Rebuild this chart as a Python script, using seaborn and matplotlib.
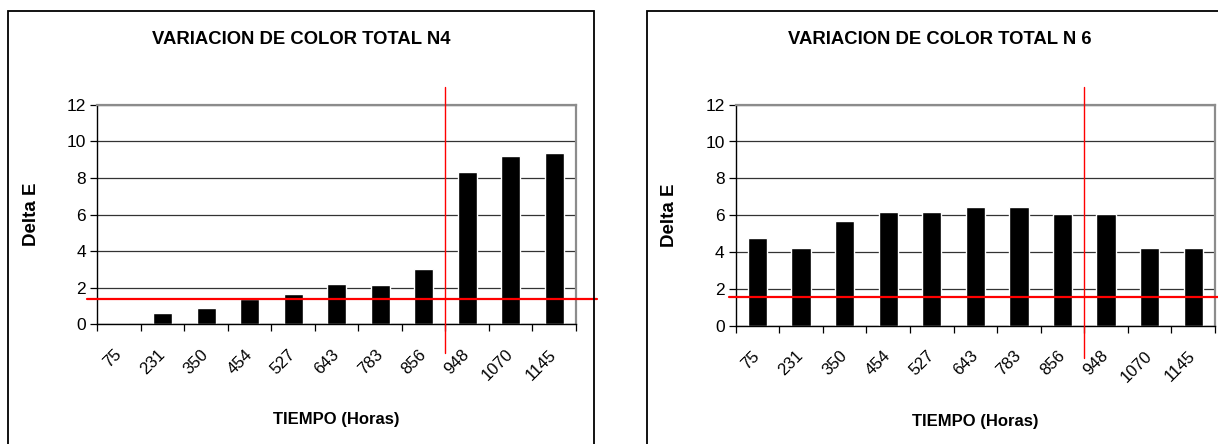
import numpy as np
import pandas as pd
import seaborn as sns
import matplotlib.pyplot as plt
from matplotlib.patches import Rectangle
from matplotlib.lines import Line2D

# ---------- data ----------
horas = ["75", "231", "350", "454", "527", "643", "783", "856", "948", "1070", "1145"]
delta_n4 = [0.0, 0.60, 0.91, 1.38, 1.63, 2.20, 2.16, 3.04, 8.30, 9.17, 9.38]
delta_n6 = [4.77, 4.23, 5.67, 6.15, 6.19, 6.42, 6.44, 6.08, 6.08, 4.21, 4.21]

titulos = ["VARIACION DE COLOR TOTAL N4", "VARIACION DE COLOR TOTAL N 6"]
umbral_h = [1.36, 1.57]      # red horizontal reference line (Delta E)
corte_v = 7.5                # red vertical line, between 856 and 948

sns.set_style("white")
plt.rcParams["font.family"] = ["Liberation Sans", "DejaVu Sans"]
plt.rcParams["text.color"] = "black"
plt.rcParams["axes.labelcolor"] = "black"
plt.rcParams["xtick.color"] = "black"
plt.rcParams["ytick.color"] = "black"

W, H = 1218, 444
fig = plt.figure(figsize=(W / 100, H / 100), dpi=100)

# panel frames (pixels: left, top, right)
paneles = [(8, 10.7, 594), (647, 10.7, 1240)]
for x0, y0, x1 in paneles:
    fig.patches.append(Rectangle((x0 / W, -0.05), (x1 - x0) / W, 1 - y0 / H + 0.05,
                                 transform=fig.transFigure, fill=False,
                                 edgecolor="black", lw=1.3, zorder=0))

# axes rectangles in pixels: left, right, top(12), bottom(0)
ejes = [(97.3, 576, 104.7, 324.3), (735.7, 1215, 104.7, 325.5)]
h_ext = [(-0.744, 10.99), (-0.654, 11.2)]
v_ext = [(12.97, -1.57), (12.97, -1.75)]
centro_titulo = [301, 940]

for i, (vals, (l, r, t, b)) in enumerate(zip([delta_n4, delta_n6], ejes)):
    ax = fig.add_axes([l / W, 1 - b / H, (r - l) / W, (b - t) / H])
    df = pd.DataFrame({"horas": horas, "delta": vals})
    sns.barplot(data=df, x="horas", y="delta", order=horas, color="black",
                saturation=1, width=0.44, ax=ax)
    ax.set_xlim(-0.5, len(horas) - 0.5)
    ax.set_ylim(0, 12)
    ax.set_yticks(np.arange(0, 13, 2))
    ax.yaxis.grid(True, color="#333333", lw=0.9)
    ax.set_axisbelow(True)

    for s in ["top", "right"]:
        ax.spines[s].set_color("#8c8c8c")
        ax.spines[s].set_linewidth(1.6)
    for s in ["left", "bottom"]:
        ax.spines[s].set_color("black")
        ax.spines[s].set_linewidth(1.0)

    ax.tick_params(axis="y", length=5, width=0.9, color="black",
                   labelsize=12.5, pad=3, left=True)
    ax.set_xticks(np.arange(-0.5, len(horas)), minor=True)
    ax.tick_params(axis="x", which="minor", length=5, width=0.9,
                   color="black", bottom=True)
    ax.tick_params(axis="x", which="major", length=0, labelsize=12, pad=20)
    for lab in ax.get_xticklabels():
        lab.set_rotation(45)
        lab.set_ha("right")
        lab.set_va("center")
        lab.set_rotation_mode("anchor")

    ax.set_xlabel("TIEMPO (Horas)", fontsize=12, fontweight="bold")
    ax.set_ylabel("Delta E", fontsize=13.5, fontweight="bold")
    ax.xaxis.set_label_coords(0.5, -0.40)
    ax.yaxis.set_label_coords(-0.12, 0.5)

    # red reference lines, drawn past the plot area like the original
    ax.add_line(Line2D(list(h_ext[i]), [umbral_h[i]] * 2, color="red",
                       lw=1.6, clip_on=False, zorder=5))
    ax.add_line(Line2D([corte_v] * 2, list(v_ext[i]), color="red",
                       lw=1.0, clip_on=False, zorder=5))

    fig.text(centro_titulo[i] / W, 1 - 40 / H, titulos[i],
             ha="center", va="center", fontsize=13.3, fontweight="bold")

fig.savefig("out.png", dpi=100)
